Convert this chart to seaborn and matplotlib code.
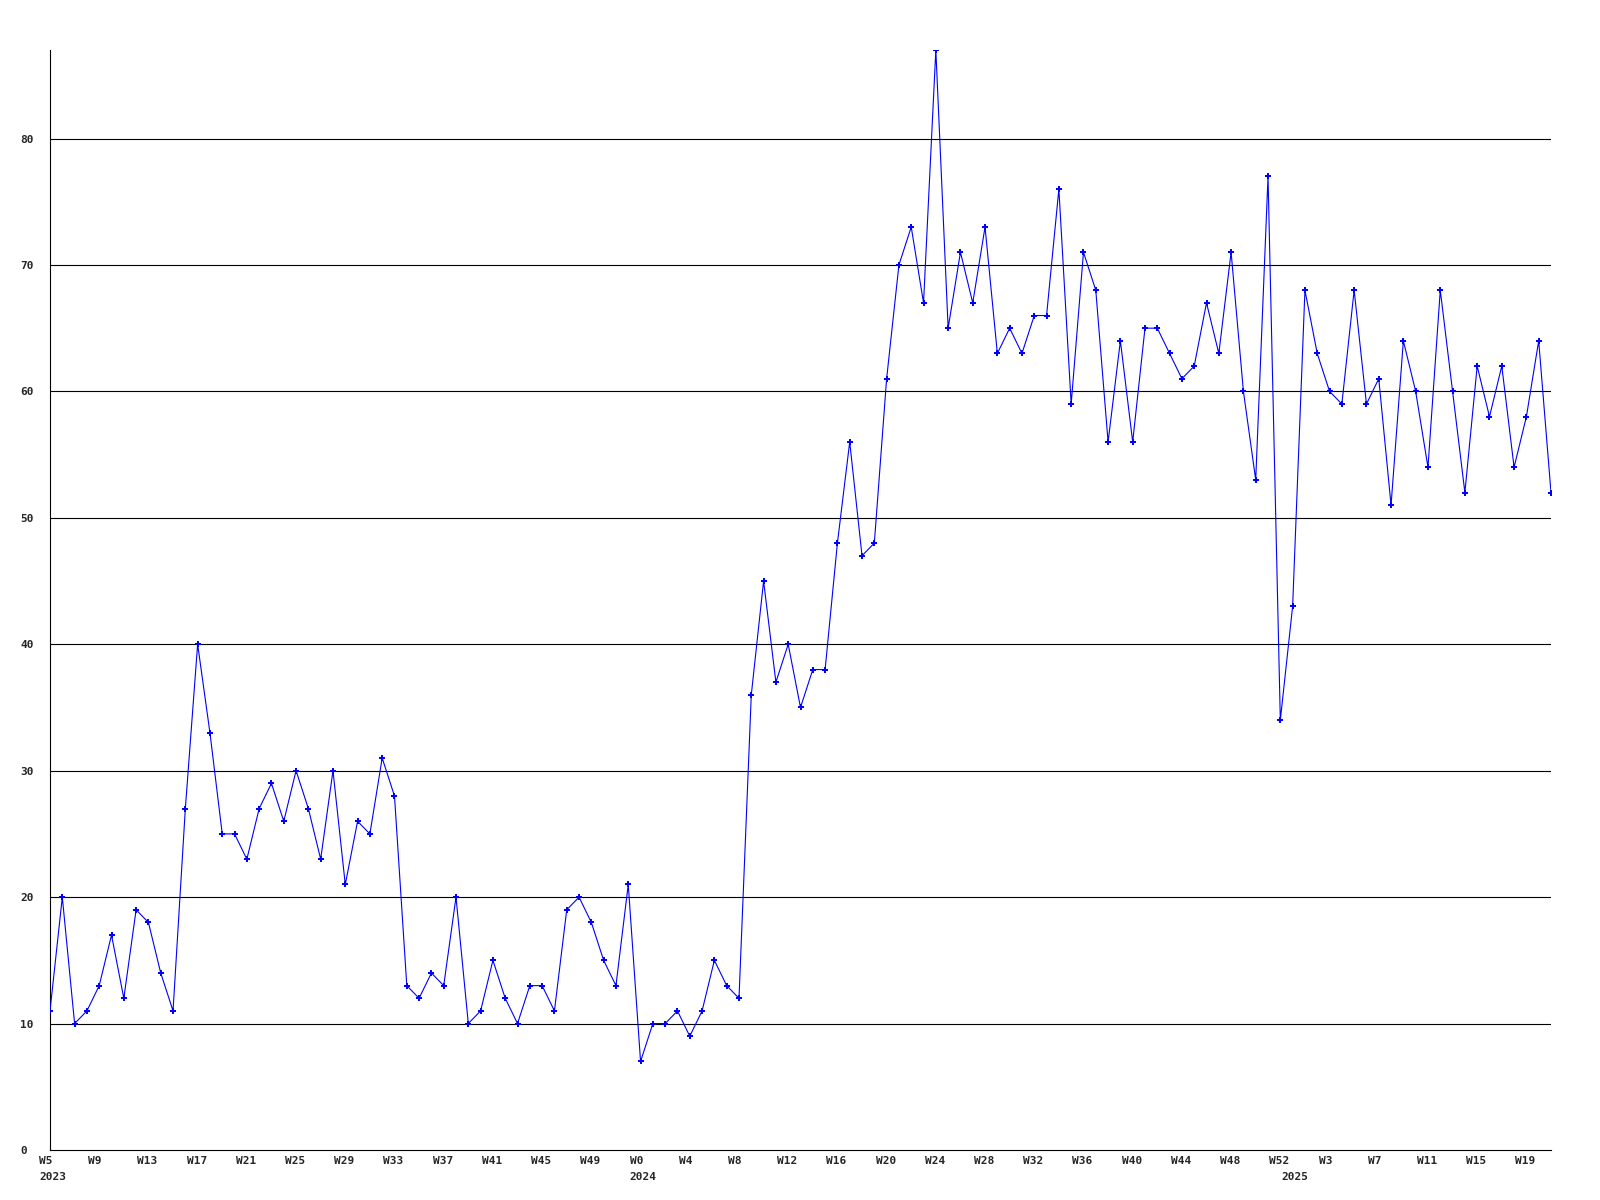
import matplotlib
matplotlib.use("Agg")
import matplotlib.pyplot as plt
from matplotlib.transforms import ScaledTranslation
import seaborn as sns
import pandas as pd

# weekly counts
weeks_2023 = list(range(5, 53))
counts_2023 = [11, 20, 10, 11, 13, 17, 12, 19, 18, 14, 11, 27, 40, 33, 25, 25,
               23, 27, 29, 26, 30, 27, 23, 30, 21, 26, 25, 31, 28, 13, 12, 14,
               13, 20, 10, 11, 15, 12, 10, 13, 13, 11, 19, 20, 18, 15, 13, 21]
weeks_2024 = list(range(0, 53))
counts_2024 = [7, 10, 10, 11, 9, 11, 15, 13, 12, 36, 45, 37, 40, 35, 38, 38,
               48, 56, 47, 48, 61, 70, 73, 67, 87, 65, 71, 67, 73, 63, 65, 63,
               66, 66, 76, 59, 71, 68, 56, 64, 56, 65, 65, 63, 61, 62, 67, 63,
               71, 60, 53, 77, 34]
weeks_2025 = list(range(0, 22))
counts_2025 = [43, 68, 63, 60, 59, 68, 59, 61, 51, 64, 60, 54, 68, 60, 52, 62,
               58, 62, 54, 58, 64, 52]
y_ticks = [0, 10, 20, 30, 40, 50, 60, 70, 80]

years = [2023] * len(weeks_2023) + [2024] * len(weeks_2024) + [2025] * len(weeks_2025)
df = pd.DataFrame({
    "year": years,
    "week": weeks_2023 + weeks_2024 + weeks_2025,
    "count": counts_2023 + counts_2024 + counts_2025,
})
df["idx"] = range(len(df))

sns.set_style("white")
plt.rcParams["font.family"] = ["DejaVu Sans Mono"]

fig = plt.figure(figsize=(16, 12), dpi=100)
ax = fig.add_axes([50 / 1600, 50 / 1200, 1501 / 1600, 1100 / 1200])

for y in y_ticks[1:]:
    ax.axhline(y, color="black", lw=0.8, zorder=1)

sns.lineplot(data=df, x="idx", y="count", ax=ax, color="#0000ff", lw=0.8,
             marker="P", markersize=4.5, markeredgewidth=0, zorder=3)

ax.set_xlim(0, len(df) - 1)
ax.set_ylim(0, df["count"].max())
ax.set_xlabel("")
ax.set_ylabel("")

for s in ["top", "right"]:
    ax.spines[s].set_visible(False)
for s in ["left", "bottom"]:
    ax.spines[s].set_color("black")
    ax.spines[s].set_linewidth(0.8)

# y labels, left aligned at the figure edge
ax.set_yticks(y_ticks)
ax.set_yticklabels([str(v) for v in y_ticks], fontsize=8, fontweight="bold", ha="left")
ax.tick_params(axis="y", length=0, pad=21.6)

# week labels every 4th week, shifted a bit left of the point
tick_idx = list(range(0, len(df), 4))
ax.set_xticks(tick_idx)
ax.set_xticklabels(["W%d" % df["week"][i] for i in tick_idx], fontsize=8,
                   fontweight="bold", ha="left")
ax.tick_params(axis="x", length=0, pad=4)
shift = ScaledTranslation(-11 / 100, 0, fig.dpi_scale_trans)
for lab in ax.get_xticklabels():
    lab.set_transform(lab.get_transform() + shift)

# year under the first week of each year
for yr in [2023, 2024, 2025]:
    i = df.index[df["year"] == yr][0]
    ax.text(i, -0.0245, str(yr), transform=ax.get_xaxis_transform(), fontsize=8,
            fontweight="bold", ha="left", va="center")
for t in ax.texts:
    t.set_transform(t.get_transform() + shift)

fig.savefig("out.png", dpi=100)
